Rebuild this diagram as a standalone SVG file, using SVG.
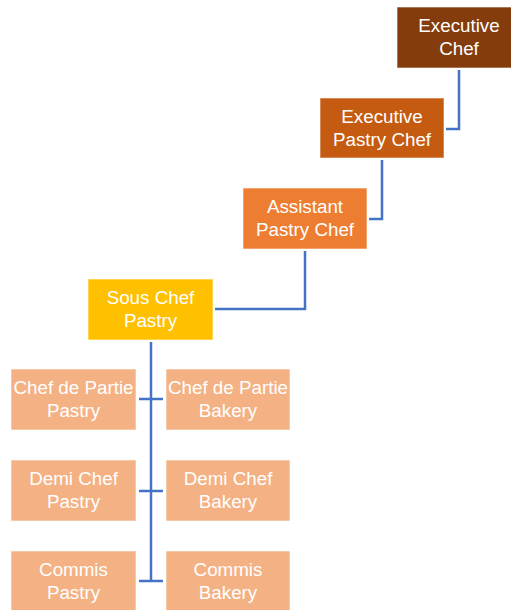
<svg xmlns="http://www.w3.org/2000/svg" width="511" height="610" viewBox="0 0 511 610">
<style>
.box{stroke:#ffffff;stroke-width:1;stroke-opacity:0.6}
.t{font-family:"Liberation Sans",Arial,sans-serif;font-size:18.8px;fill:#ffffff;text-anchor:middle}
.c{fill:none;stroke:#4472C4;stroke-width:2.5}
</style>
<rect width="511" height="610" fill="#ffffff"/>
<g id="connectors">
<path class="c" d="M459,70 V129 H446"/>
<path class="c" d="M382,160 V219 H369"/>
<path class="c" d="M305,251 V309 H215"/>
<path class="c" d="M151,342 V581"/>
<path class="c" d="M139,399 H163"/>
<path class="c" d="M139,491 H163"/>
<path class="c" d="M139,581 H163"/>
</g>
<g id="executive-chef">
<rect class="box" x="397" y="7" width="124" height="61" fill="#843C0C"/>
<text class="t" x="459" y="32">Executive</text>
<text class="t" x="459" y="55">Chef</text>
</g>
<g id="executive-pastry-chef">
<rect class="box" x="320" y="98" width="124" height="60" fill="#C55A11"/>
<text class="t" x="382" y="123">Executive</text>
<text class="t" x="382" y="146">Pastry Chef</text>
</g>
<g id="assistant-pastry-chef">
<rect class="box" x="243" y="188" width="124" height="61" fill="#ED7D31"/>
<text class="t" x="305" y="213">Assistant</text>
<text class="t" x="305" y="236">Pastry Chef</text>
</g>
<g id="sous-chef-pastry">
<rect class="box" x="88" y="279" width="125" height="61" fill="#FFC000"/>
<text class="t" x="150.5" y="304">Sous Chef</text>
<text class="t" x="150.5" y="327">Pastry</text>
</g>
<g id="chef-de-partie-pastry">
<rect class="box" x="11" y="369" width="125" height="61" fill="#F4B183"/>
<text class="t" x="73.5" y="394">Chef de Partie</text>
<text class="t" x="73.5" y="417">Pastry</text>
</g>
<g id="chef-de-partie-bakery">
<rect class="box" x="166" y="369" width="124" height="61" fill="#F4B183"/>
<text class="t" x="228" y="394">Chef de Partie</text>
<text class="t" x="228" y="417">Bakery</text>
</g>
<g id="demi-chef-pastry">
<rect class="box" x="11" y="460" width="125" height="61" fill="#F4B183"/>
<text class="t" x="73.5" y="485">Demi Chef</text>
<text class="t" x="73.5" y="508">Pastry</text>
</g>
<g id="demi-chef-bakery">
<rect class="box" x="166" y="460" width="124" height="61" fill="#F4B183"/>
<text class="t" x="228" y="485">Demi Chef</text>
<text class="t" x="228" y="508">Bakery</text>
</g>
<g id="commis-pastry">
<rect class="box" x="11" y="551" width="125" height="61" fill="#F4B183"/>
<text class="t" x="73.5" y="576">Commis</text>
<text class="t" x="73.5" y="599">Pastry</text>
</g>
<g id="commis-bakery">
<rect class="box" x="166" y="551" width="124" height="61" fill="#F4B183"/>
<text class="t" x="228" y="576">Commis</text>
<text class="t" x="228" y="599">Bakery</text>
</g>
</svg>
